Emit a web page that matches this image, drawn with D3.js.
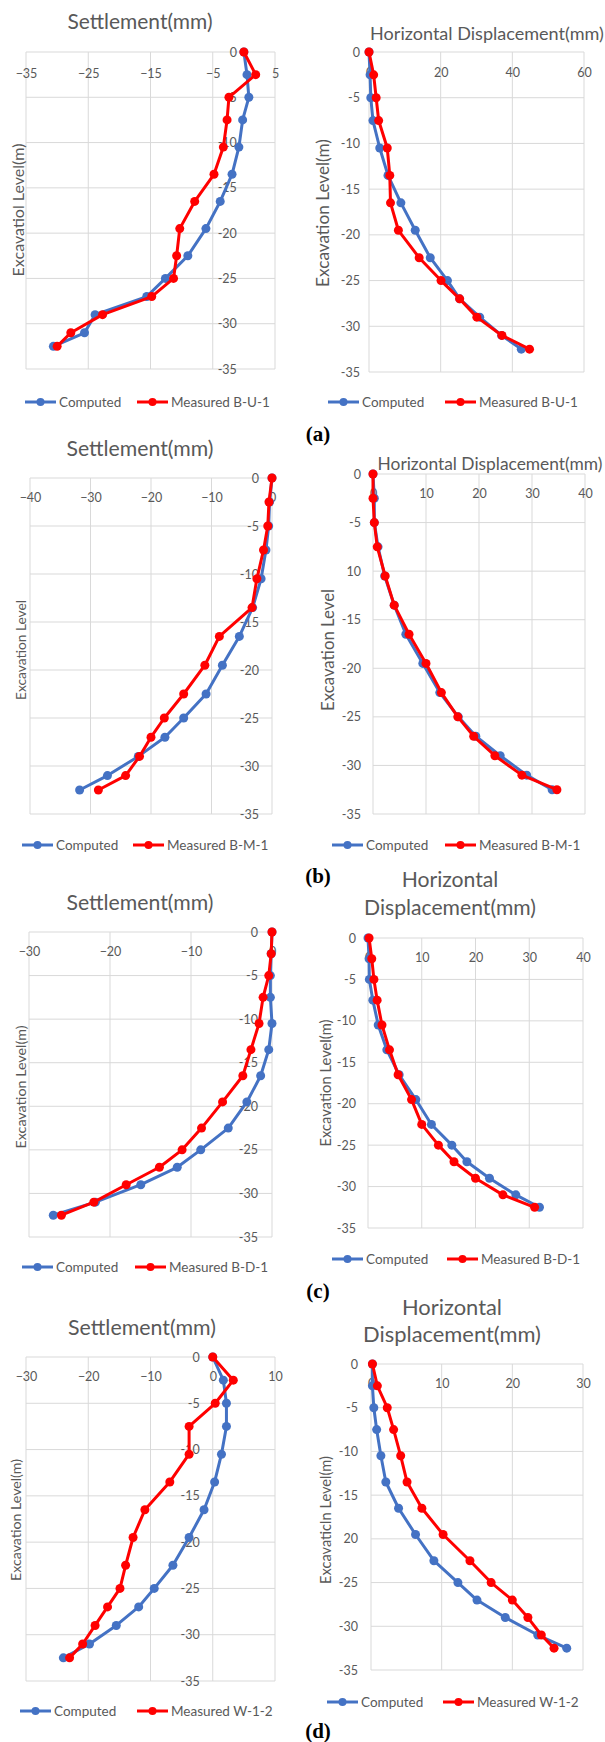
<!DOCTYPE html>
<html>
<head>
<meta charset="utf-8">
<script src="https://cdn.jsdelivr.net/npm/d3@7"></script>
<style>
  body { margin: 0; background: #fff; }
  svg { display: block; }
</style>
</head>
<body>
<svg id="fig" width="605" height="1742"></svg>
<script>
// excavation stages (m), shared by every panel
var depths = [0, -2.5, -5, -7.5, -10.5, -13.5, -16.5, -19.5, -22.5, -25, -27, -29, -31, -32.5];
var depthTicks = [0, -5, -10, -15, -20, -25, -30, -35];
var depthLabels = ["0", "-5", "-10", "-15", "-20", "-25", "-30", "-35"];
var depthLabelsB = ["0", "-5", "10", "-15", "-20", "-25", "-30", "-35"];   // as printed in (b)
var depthLabelsD = ["0", "-5", "-10", "-15", "20", "-25", "-30", "-35"];   // as printed in (d)

// x tick values
var settleTicksA = [-35, -25, -15, -5, 5];
var settleTicksB = [-40, -30, -20, -10, 0];
var settleTicksC = [-30, -20, -10, 0];
var settleTicksD = [-30, -20, -10, 0, 10];
var horizTicksA = [0, 20, 40, 60];
var horizTicksB = [0, 10, 20, 30, 40];
var horizTicksC = [0, 10, 20, 30, 40];
var horizTicksD = [0, 10, 20, 30];

// (a) B-U-1
var aSettleComputed = [0, 0.5, 0.8, -0.2, -0.8, -1.9, -3.8, -6.1, -9.0, -12.6, -15.6, -23.9, -25.6, -30.6];
var aSettleMeasured = [0, 1.9, -2.4, -2.7, -3.3, -4.8, -7.9, -10.3, -10.8, -11.3, -14.8, -22.7, -27.8, -30.0];
var aHorizComputed = [0, 0.3, 0.5, 1.1, 3.0, 5.3, 8.9, 12.9, 17.1, 21.9, 25.3, 30.9, 37.0, 42.5];
var aHorizMeasured = [0, 1.3, 2.0, 2.7, 5.1, 5.8, 6.0, 8.2, 14.0, 20.1, 25.3, 30.1, 37.1, 44.8];
// (b) B-M-1
var bSettleComputed = [0, -0.4, -0.55, -1.0, -1.8, -3.2, -5.4, -8.2, -10.9, -14.6, -17.7, -22.1, -27.2, -31.8];
var bSettleMeasured = [0, -0.5, -0.7, -1.4, -2.5, -3.3, -8.7, -11.1, -14.6, -17.8, -20.0, -21.9, -24.2, -28.7];
var bHorizComputed = [0, 0.25, 0.25, 0.95, 2.2, 4.0, 6.2, 9.4, 12.6, 16.1, 19.4, 24.0, 29.0, 33.8];
var bHorizMeasured = [0, 0, 0.25, 0.8, 2.3, 4.0, 6.8, 10.0, 12.9, 16.0, 19.0, 23.0, 28.1, 34.7];
// (c) B-D-1
var cSettleComputed = [0, -0.1, -0.2, -0.2, 0, -0.4, -1.4, -3.1, -5.4, -8.8, -11.7, -16.2, -21.8, -27.0];
var cSettleMeasured = [0, -0.1, -0.4, -1.1, -1.6, -2.6, -3.6, -6.1, -8.7, -11.1, -13.9, -18.0, -22.0, -26.0];
var cHorizComputed = [0, 0.2, 0.25, 0.9, 1.9, 3.5, 5.8, 8.9, 11.8, 15.6, 18.4, 22.6, 27.5, 31.9];
var cHorizMeasured = [0.2, 0.7, 1.1, 1.7, 2.6, 4.0, 5.6, 8.1, 10.0, 13.1, 16.0, 20.0, 25.1, 31.0];
// (d) W-1-2
var dSettleComputed = [0, 1.7, 2.2, 2.2, 1.4, 0.3, -1.4, -3.8, -6.4, -9.4, -11.9, -15.5, -19.8, -24.0];
var dSettleMeasured = [0, 3.3, 0.4, -3.8, -3.8, -6.9, -10.9, -12.8, -14.0, -14.9, -16.9, -18.9, -20.9, -23.0];
var dHorizComputed = [0.2, 0.2, 0.4, 0.8, 1.4, 2.1, 3.9, 6.3, 8.9, 12.3, 15.0, 19.0, 23.6, 27.7];
var dHorizMeasured = [0.2, 0.9, 2.3, 3.2, 4.2, 5.1, 7.2, 10.2, 14.0, 17.0, 20.0, 22.2, 24.1, 25.9];

var computedName = "Computed";
var measuredNames = ["Measured B-U-1", "Measured B-M-1", "Measured B-D-1", "Measured W-1-2"];
var panelLetters = ["(a)", "(b)", "(c)", "(d)"];

var BLUE = "#4472c4", RED = "#ff0000", GRID = "#d9d9d9", TXT = "#595959";
var FONT = "Lato, 'Open Sans', sans-serif";

var svg = d3.select("#fig");
svg.append("rect").attr("width", 605).attr("height", 1742).attr("fill", "#fff");

// layout of the 8 charts
var panels = [
  {x0: 26, x1: 275, y0: 52, y1: 369, ticks: settleTicksA, comp: aSettleComputed, meas: aSettleMeasured, mi: 0,
   yLabels: depthLabels, xPad: 17, yPad: 7, title: ["Settlement(mm)"], tx: 140, ty: 20, tw: 145,
   yt: "Excavatiol Level(m)", ytx: 17, yty: 210, ytw: 133, legY: 402, legB: 25, legR: 137},
  {x0: 369, x1: 584, y0: 52, y1: 372, ticks: horizTicksA, comp: aHorizComputed, meas: aHorizMeasured, mi: 0,
   yLabels: depthLabels, xPad: 16, yPad: 9, title: ["Horizontal Displacement(mm)"], tx: 487, ty: 33, tw: 234,
   yt: "Excavation Level(m)", ytx: 322, yty: 213, ytw: 148, legY: 402, legB: 328, legR: 445},
  {x0: 30, x1: 272, y0: 478, y1: 814, ticks: settleTicksB, comp: bSettleComputed, meas: bSettleMeasured, mi: 1,
   yLabels: depthLabels, xPad: 15, yPad: 13, title: ["Settlement(mm)"], tx: 140, ty: 448, tw: 147,
   yt: "Excavation Level", ytx: 20, yty: 650, ytw: 100, legY: 845, legB: 22, legR: 133},
  {x0: 373, x1: 585, y0: 474, y1: 814, ticks: horizTicksB, comp: bHorizComputed, meas: bHorizMeasured, mi: 1,
   yLabels: depthLabelsB, xPad: 15, yPad: 12, title: ["Horizontal Displacement(mm)"], tx: 490, ty: 463, tw: 225,
   yt: "Excavation Level", ytx: 327, yty: 650, ytw: 122, legY: 845, legB: 332, legR: 445},
  {x0: 29, x1: 272, y0: 932, y1: 1237, ticks: settleTicksC, comp: cSettleComputed, meas: cSettleMeasured, mi: 2,
   yLabels: depthLabels, xPad: 15, yPad: 14, title: ["Settlement(mm)"], tx: 140, ty: 902, tw: 147,
   yt: "Excavation Level(m)", ytx: 20, yty: 1087, ytw: 123, legY: 1267, legB: 22, legR: 135},
  {x0: 368, x1: 583, y0: 938, y1: 1228, ticks: horizTicksC, comp: cHorizComputed, meas: cHorizMeasured, mi: 2,
   yLabels: depthLabels, xPad: 15, yPad: 12, title: ["Horizontal", "Displacement(mm)"], tx: 450, ty: 879, tw: 172, lh: 28,
   yt: "Excavation Level(m)", ytx: 325, yty: 1083, ytw: 127, legY: 1259, legB: 332, legR: 447},
  {x0: 26, x1: 275, y0: 1357, y1: 1681, ticks: settleTicksD, comp: dSettleComputed, meas: dSettleMeasured, mi: 3,
   yLabels: depthLabels, xPad: 15, yPad: 13, title: ["Settlement(mm)"], tx: 142, ty: 1327, tw: 148,
   yt: "Excavation Level(m)", ytx: 15, yty: 1520, ytw: 122, legY: 1711, legB: 20, legR: 137},
  {x0: 371, x1: 583, y0: 1364, y1: 1670, ticks: horizTicksD, comp: dHorizComputed, meas: dHorizMeasured, mi: 3,
   yLabels: depthLabelsD, xPad: 15, yPad: 13, title: ["Horizontal", "Displacement(mm)"], tx: 452, ty: 1306, tw: 178, lh: 27,
   yt: "Excavaticln Level(m)", ytx: 325, yty: 1520, ytw: 128, legY: 1702, legB: 327, legR: 443}
];

// scale a text's font so that it spans the wanted width
function fitText(sel, width) {
  var w = sel.node().getComputedTextLength();
  var fs = parseFloat(sel.attr("font-size"));
  sel.attr("font-size", (fs * width / w).toFixed(2));
}

function drawPanel(p) {
  var g = svg.append("g");
  var x = d3.scaleLinear().domain([p.ticks[0], p.ticks[p.ticks.length - 1]]).range([p.x0, p.x1]);
  var y = d3.scaleLinear().domain([0, -35]).range([p.y0, p.y1]);

  // gridlines
  g.selectAll(".vg").data(p.ticks).enter().append("line")
    .attr("x1", d => x(d)).attr("x2", d => x(d))
    .attr("y1", p.y0).attr("y2", p.y1)
    .attr("stroke", GRID).attr("stroke-width", 1);
  g.selectAll(".hg").data(depthTicks).enter().append("line")
    .attr("x1", p.x0).attr("x2", p.x1)
    .attr("y1", d => y(d)).attr("y2", d => y(d))
    .attr("stroke", GRID).attr("stroke-width", 1);

  // x labels sit just under the top (y = 0) line, Excel style
  var xa = g.append("g").attr("transform", `translate(0,${p.y0})`)
    .call(d3.axisBottom(x).tickValues(p.ticks).tickSize(0).tickPadding(p.xPad));
  xa.select(".domain").remove();
  xa.attr("font-family", FONT).attr("font-size", 12.5);
  xa.selectAll("text").attr("fill", TXT);

  // y labels beside the x = 0 line
  var ya = g.append("g").attr("transform", `translate(${x(0)},0)`)
    .call(d3.axisLeft(y).tickValues(depthTicks).tickSize(0).tickPadding(p.yPad)
      .tickFormat((d, i) => p.yLabels[i]));
  ya.select(".domain").remove();
  ya.attr("font-family", FONT).attr("font-size", 12.5);
  ya.selectAll("text").attr("fill", TXT);

  // series
  var line = d3.line().x(d => x(d[0])).y(d => y(d[1]));
  [[p.comp, BLUE], [p.meas, RED]].forEach(function(s) {
    var pts = s[0].map((v, i) => [v, depths[i]]);
    g.append("path").datum(pts).attr("d", line)
      .attr("fill", "none").attr("stroke", s[1]).attr("stroke-width", 3)
      .attr("stroke-linejoin", "round");
    g.selectAll(null).data(pts).enter().append("circle")
      .attr("cx", d => x(d[0])).attr("cy", d => y(d[1])).attr("r", 4.5)
      .attr("fill", s[1]);
  });

  // title
  var lh = p.lh || 0;
  p.title.forEach(function(t, i) {
    var tt = g.append("text").attr("x", p.tx).attr("y", p.ty + i * lh)
      .attr("text-anchor", "middle").attr("dominant-baseline", "central")
      .attr("font-family", FONT).attr("font-size", 20).attr("fill", TXT).text(t);
    if (i === p.title.length - 1) fitText(tt, p.tw);
    else tt.attr("font-size", null);
  });
  if (p.title.length > 1) {
    var fs = g.selectAll("text").filter(function() { return this.textContent === p.title[p.title.length - 1]; }).attr("font-size");
    g.selectAll("text").filter(function() { return p.title.indexOf(this.textContent) >= 0; }).attr("font-size", fs);
  }

  // y axis title
  var yt = g.append("text")
    .attr("transform", `translate(${p.ytx},${p.yty}) rotate(-90)`)
    .attr("text-anchor", "middle").attr("dominant-baseline", "central")
    .attr("font-family", FONT).attr("font-size", 15).attr("fill", TXT).text(p.yt);
  fitText(yt, p.ytw);

  // legend
  [[p.legB, BLUE, computedName], [p.legR, RED, measuredNames[p.mi]]].forEach(function(l) {
    g.append("line").attr("x1", l[0]).attr("x2", l[0] + 31)
      .attr("y1", p.legY).attr("y2", p.legY)
      .attr("stroke", l[1]).attr("stroke-width", 3);
    g.append("circle").attr("cx", l[0] + 15.5).attr("cy", p.legY).attr("r", 4).attr("fill", l[1]);
    g.append("text").attr("x", l[0] + 34).attr("y", p.legY)
      .attr("dominant-baseline", "central")
      .attr("font-family", FONT).attr("font-size", 13.5).attr("fill", TXT).text(l[2]);
  });
}

panels.forEach(drawPanel);

// sub-figure letters
var letterY = [434, 876, 1291, 1731];
svg.selectAll(".letter").data(panelLetters).enter().append("text")
  .attr("x", 318).attr("y", (d, i) => letterY[i])
  .attr("text-anchor", "middle").attr("dominant-baseline", "central")
  .attr("font-family", "'Liberation Serif', 'DejaVu Serif', serif")
  .attr("font-weight", "bold").attr("font-size", 21).attr("fill", "#000")
  .text(d => d);
</script>
</body>
</html>
